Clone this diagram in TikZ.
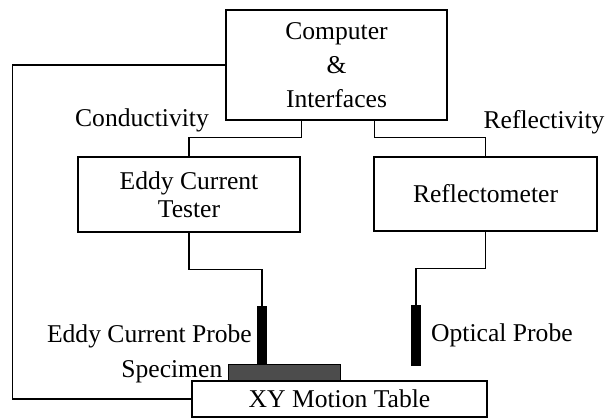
\documentclass[tikz,border=0pt]{standalone}
\usepackage{fontspec}
\setmainfont{Liberation Serif}
\usetikzlibrary{positioning}
\tikzset{
    every node/.style={font=\fontsize{25.6}{34}\selectfont},
    block/.style={draw, line width=1.4pt, align=center, inner sep=0pt},
    label text/.style={inner sep=0pt},
    probe/.style={draw, fill=black, line width=1pt, minimum width=9pt, minimum height=60pt, inner sep=0pt},
    wire/.style={line width=1.4pt},
}

\begin{document}
\begin{tikzpicture}[x=1pt, y=-1pt]
                \useasboundingbox (0,0) rectangle (608,418);

                \node[block, minimum width=221pt, minimum height=110pt] (comp) at (336.5,65) {Computer\\\&\\Interfaces};
                \node[block, minimum width=222pt, minimum height=75pt, font=\fontsize{25.6}{28}\selectfont] (ect) at (189,194.5) {Eddy Current\\Tester};
                \node[block, minimum width=223pt, minimum height=74pt] (refl) at (485.5,194) {Reflectometer};
                \node[block, minimum width=295pt, minimum height=36pt] (table) at (339.5,399) {XY Motion Table};

                \node[probe] (ecprobe) at (262,336) {};
                \node[probe] (opprobe) at (416,335) {};
                \node[draw, fill=black!70, line width=1pt, minimum width=112pt, minimum height=16pt, inner sep=0pt] (spec) at (284,372) {};

                \node[label text] (cond) at (142,120) {Conductivity};
                \node[label text] (reflty) at (544,122) {Reflectivity};
                \node[label text, left=5pt of ecprobe.west] (ecplabel) {Eddy Current Probe};
                \node[label text, left=5pt of spec.west] (speclabel) {Specimen};
                \node[label text, right=10pt of opprobe.east] (oplabel) {Optical Probe};

                \draw[wire] ([xshift=-35pt]comp.south) -- ++(0,17) -| (ect.north);
                \draw[wire] ([xshift=38pt]comp.south) -- ++(0,17) -| (refl.north);
                \draw[wire] (ect.south) -- ++(0,37) -| (ecprobe.north);
                \draw[wire] (refl.south) -- ++(0,37) -| (opprobe.north);
                \draw[wire] (comp.west) -- ++(-213,0) |- (table.west);
            \end{tikzpicture}
\end{document}
